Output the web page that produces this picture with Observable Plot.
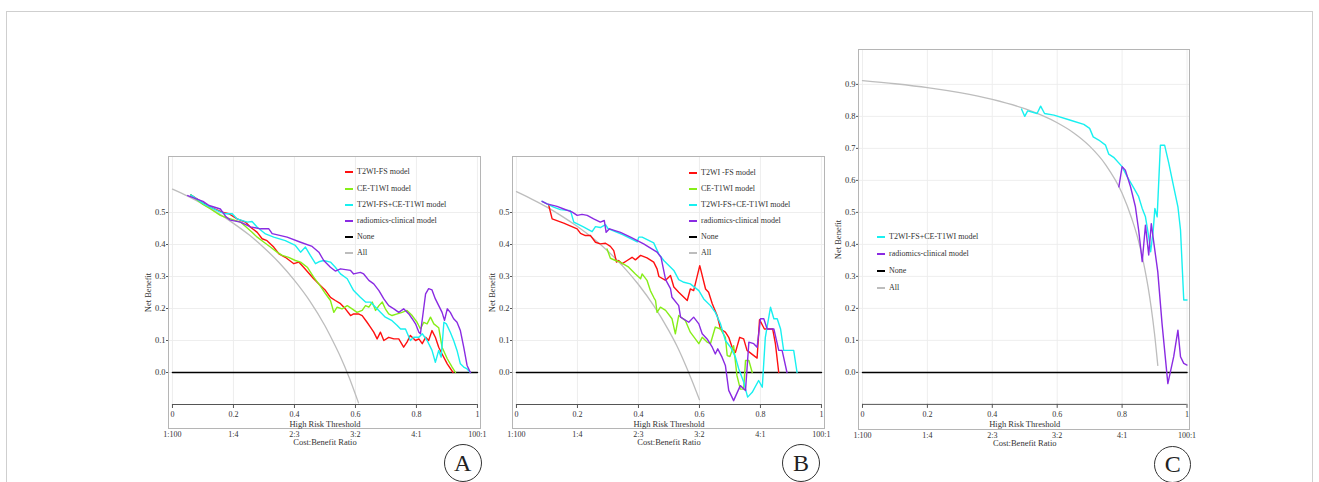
<!DOCTYPE html>
<html><head><meta charset="utf-8">
<script src="https://cdn.jsdelivr.net/npm/d3@7"></script>
<script src="https://cdn.jsdelivr.net/npm/@observablehq/plot@0.6"></script>
<style>
body{margin:0;background:#fff;}
#root{position:relative;width:1319px;height:482px;overflow:hidden;font-family:"Liberation Serif","Times New Roman",serif;}
.leg{position:absolute;font-size:8px;color:#333;white-space:nowrap;line-height:10px;height:10px;}
.leg i{position:absolute;left:0;top:4px;width:8px;height:2px;}
.leg span{position:absolute;left:12px;top:0;}
.circ{position:absolute;border:1px solid #333;border-radius:50%;text-align:center;font-size:24px;color:#222;box-sizing:border-box;}
.psvg{position:absolute;}
</style>
</head><body><div id="root"></div>
<script>
// ---------- data ----------
const xTicks = [0, 0.2, 0.4, 0.6, 0.8, 1];
const xTickLabels = ["0", "0.2", "0.4", "0.6", "0.8", "1"];
const ratioLabels = ["1:100", "1:4", "2:3", "3:2", "4:1", "100:1"];
const yTicksAB = [0, 0.1, 0.2, 0.3, 0.4, 0.5];
const yTicksC = [0, 0.1, 0.2, 0.3, 0.4, 0.5, 0.6, 0.7, 0.8, 0.9];

const legendA = ["T2WI-FS model", "CE-T1WI model", "T2WI-FS+CE-T1WI model", "radiomics-clinical model", "None", "All"];
const legendB = ["T2WI -FS model", "CE-T1WI model", "T2WI-FS+CE-T1WI model", "radiomics-clinical model", "None", "All"];
const legendC = ["T2WI-FS+CE-T1WI model", "radiomics-clinical model", "None", "All"];
const panelLetters = ["A", "B", "C"];

const noneT = [0, 1];
const noneNB = [0, 0];

// Panel A
const aAll = [[0,0.573],[0.05,0.551],[0.1,0.526],[0.15,0.498],[0.2,0.466],[0.25,0.431],[0.3,0.39],[0.35,0.343],[0.4,0.288],[0.45,0.224],[0.5,0.146],[0.525,0.1],[0.55,0.051],[0.58,-0.017],[0.61,-0.095]];
const aRed = [[0.06,0.555],[0.1,0.53],[0.125,0.517],[0.163,0.501],[0.185,0.496],[0.212,0.48],[0.239,0.47],[0.256,0.454],[0.278,0.438],[0.294,0.418],[0.31,0.412],[0.332,0.392],[0.349,0.371],[0.37,0.36],[0.398,0.34],[0.414,0.345],[0.43,0.329],[0.463,0.293],[0.485,0.272],[0.502,0.256],[0.518,0.235],[0.534,0.225],[0.551,0.215],[0.567,0.199],[0.584,0.178],[0.594,0.183],[0.61,0.183],[0.622,0.178],[0.638,0.157],[0.649,0.142],[0.66,0.126],[0.671,0.105],[0.682,0.126],[0.693,0.10],[0.709,0.11],[0.726,0.105],[0.742,0.105],[0.758,0.079],[0.769,0.095],[0.78,0.116],[0.797,0.10],[0.808,0.105],[0.819,0.09],[0.83,0.11],[0.84,0.10],[0.851,0.131],[0.862,0.11],[0.873,0.079],[0.884,0.058],[0.901,0.027],[0.92,0.0]];
const aGreen = [[0.06,0.555],[0.1,0.525],[0.125,0.511],[0.157,0.491],[0.174,0.485],[0.19,0.48],[0.223,0.47],[0.261,0.438],[0.278,0.423],[0.3,0.407],[0.321,0.392],[0.343,0.376],[0.36,0.366],[0.381,0.36],[0.403,0.35],[0.42,0.345],[0.442,0.329],[0.463,0.298],[0.485,0.27],[0.502,0.246],[0.518,0.225],[0.529,0.188],[0.54,0.204],[0.556,0.199],[0.573,0.209],[0.589,0.199],[0.605,0.188],[0.622,0.194],[0.633,0.209],[0.644,0.204],[0.655,0.22],[0.666,0.194],[0.677,0.209],[0.688,0.22],[0.698,0.199],[0.709,0.183],[0.72,0.178],[0.737,0.183],[0.753,0.188],[0.769,0.194],[0.786,0.178],[0.802,0.157],[0.813,0.136],[0.824,0.157],[0.835,0.152],[0.846,0.173],[0.857,0.152],[0.873,0.14],[0.884,0.079],[0.901,0.043],[0.917,0.017],[0.928,0.0]];
const aCyan = [[0.06,0.555],[0.103,0.527],[0.157,0.501],[0.174,0.496],[0.196,0.496],[0.212,0.48],[0.245,0.47],[0.261,0.472],[0.278,0.454],[0.305,0.433],[0.332,0.423],[0.37,0.412],[0.403,0.397],[0.42,0.376],[0.436,0.392],[0.452,0.366],[0.469,0.34],[0.48,0.346],[0.496,0.35],[0.518,0.345],[0.534,0.329],[0.551,0.308],[0.573,0.293],[0.594,0.256],[0.616,0.235],[0.633,0.22],[0.649,0.22],[0.666,0.204],[0.682,0.188],[0.698,0.173],[0.72,0.162],[0.737,0.147],[0.748,0.136],[0.764,0.136],[0.78,0.10],[0.791,0.11],[0.808,0.11],[0.819,0.121],[0.835,0.1],[0.851,0.069],[0.862,0.032],[0.873,0.069],[0.881,0.048],[0.89,0.157],[0.898,0.152],[0.911,0.126],[0.922,0.1],[0.933,0.069],[0.944,0.027],[0.955,0.017],[0.966,0.011],[0.977,0.0]];
const aPurple = [[0.05,0.553],[0.10,0.535],[0.12,0.522],[0.157,0.511],[0.175,0.487],[0.19,0.476],[0.223,0.47],[0.256,0.455],[0.289,0.449],[0.316,0.449],[0.327,0.434],[0.376,0.423],[0.42,0.407],[0.458,0.394],[0.48,0.376],[0.496,0.35],[0.518,0.329],[0.534,0.317],[0.551,0.324],[0.584,0.319],[0.594,0.308],[0.616,0.313],[0.627,0.308],[0.644,0.288],[0.66,0.277],[0.677,0.256],[0.693,0.23],[0.709,0.209],[0.726,0.199],[0.742,0.188],[0.758,0.199],[0.775,0.183],[0.786,0.168],[0.797,0.152],[0.808,0.126],[0.813,0.121],[0.83,0.246],[0.84,0.262],[0.851,0.258],[0.862,0.23],[0.873,0.209],[0.884,0.188],[0.892,0.163],[0.901,0.199],[0.911,0.188],[0.922,0.168],[0.933,0.157],[0.944,0.131],[0.955,0.079],[0.966,0.022],[0.977,0.0]];

// Panel B
const bAll = [[0,0.565],[0.05,0.542],[0.1,0.517],[0.15,0.488],[0.2,0.456],[0.25,0.42],[0.3,0.379],[0.35,0.331],[0.4,0.275],[0.45,0.209],[0.5,0.13],[0.525,0.085],[0.55,0.033],[0.575,-0.024],[0.6,-0.085]];
const bRed = [[0.106,0.522],[0.117,0.48],[0.155,0.467],[0.199,0.449],[0.21,0.435],[0.226,0.428],[0.243,0.428],[0.259,0.407],[0.275,0.402],[0.292,0.404],[0.308,0.394],[0.319,0.381],[0.328,0.345],[0.335,0.35],[0.347,0.34],[0.363,0.35],[0.379,0.36],[0.39,0.352],[0.407,0.366],[0.428,0.358],[0.45,0.345],[0.461,0.324],[0.467,0.3],[0.489,0.288],[0.505,0.303],[0.516,0.267],[0.532,0.251],[0.56,0.225],[0.57,0.261],[0.581,0.256],[0.601,0.334],[0.62,0.261],[0.63,0.251],[0.642,0.215],[0.658,0.178],[0.669,0.136],[0.685,0.126],[0.696,0.11],[0.707,0.079],[0.718,0.063],[0.732,0.11],[0.745,0.105],[0.756,0.069],[0.789,0.045],[0.797,0.165],[0.813,0.136],[0.84,0.136],[0.849,0.09],[0.86,0.0]];
const bGreen = [[0.297,0.386],[0.308,0.357],[0.325,0.35],[0.34,0.345],[0.368,0.329],[0.39,0.308],[0.407,0.293],[0.412,0.308],[0.428,0.288],[0.439,0.256],[0.45,0.235],[0.456,0.225],[0.461,0.188],[0.472,0.204],[0.489,0.194],[0.51,0.168],[0.521,0.121],[0.532,0.178],[0.554,0.162],[0.57,0.126],[0.598,0.09],[0.609,0.11],[0.625,0.095],[0.636,0.09],[0.652,0.142],[0.669,0.136],[0.685,0.11],[0.691,0.053],[0.7,0.05],[0.712,0.084],[0.723,-0.01],[0.734,-0.052],[0.745,-0.052],[0.751,0.0375],[0.762,0.0375],[0.773,0.0]];
const bCyan = [[0.084,0.535],[0.122,0.517],[0.144,0.509],[0.177,0.506],[0.188,0.47],[0.221,0.454],[0.248,0.44],[0.259,0.456],[0.275,0.453],[0.292,0.462],[0.3,0.45],[0.35,0.43],[0.396,0.408],[0.401,0.423],[0.412,0.423],[0.45,0.405],[0.467,0.37],[0.483,0.35],[0.516,0.319],[0.532,0.29],[0.549,0.282],[0.57,0.277],[0.598,0.256],[0.614,0.23],[0.636,0.209],[0.652,0.188],[0.669,0.152],[0.685,0.1],[0.702,0.079],[0.718,0.048],[0.729,0.011],[0.745,-0.03],[0.758,-0.077],[0.773,-0.062],[0.794,-0.025],[0.806,-0.046],[0.816,0.11],[0.833,0.204],[0.844,0.168],[0.855,0.168],[0.866,0.136],[0.876,0.069],[0.909,0.069],[0.92,0.0]];
const bPurple = [[0.084,0.535],[0.1,0.527],[0.133,0.519],[0.155,0.511],[0.183,0.501],[0.199,0.491],[0.215,0.494],[0.232,0.491],[0.253,0.48],[0.275,0.47],[0.288,0.475],[0.294,0.438],[0.305,0.449],[0.341,0.438],[0.374,0.423],[0.417,0.402],[0.461,0.376],[0.474,0.36],[0.489,0.29],[0.505,0.262],[0.51,0.235],[0.532,0.209],[0.538,0.173],[0.565,0.157],[0.581,0.173],[0.598,0.152],[0.609,0.121],[0.625,0.105],[0.642,0.079],[0.652,0.058],[0.66,0.074],[0.674,0.048],[0.685,0.022],[0.696,-0.056],[0.712,-0.088],[0.734,-0.041],[0.751,-0.056],[0.762,0.095],[0.778,0.09],[0.789,0.079],[0.8,0.168],[0.811,0.168],[0.822,0.136],[0.844,0.136],[0.86,0.069],[0.871,0.069],[0.887,0.0]];

// Panel C
const cAll = [[0,0.912],[0.1,0.902],[0.2,0.89],[0.3,0.874],[0.4,0.853],[0.5,0.824],[0.6,0.78],[0.65,0.749],[0.7,0.707],[0.75,0.648],[0.8,0.56],[0.83,0.48],[0.85,0.413],[0.87,0.323],[0.88,0.267],[0.89,0.2],[0.9,0.12],[0.91,0.022]];
const cCyan = [[0.49,0.823],[0.5,0.80],[0.509,0.817],[0.538,0.809],[0.549,0.832],[0.561,0.809],[0.59,0.804],[0.641,0.788],[0.682,0.775],[0.7,0.7625],[0.711,0.736],[0.728,0.726],[0.749,0.71],[0.759,0.682],[0.774,0.672],[0.8,0.643],[0.816,0.611],[0.831,0.585],[0.851,0.549],[0.862,0.5125],[0.872,0.486],[0.882,0.424],[0.888,0.377],[0.896,0.445],[0.901,0.5125],[0.908,0.486],[0.918,0.71],[0.931,0.71],[0.944,0.653],[0.959,0.58],[0.972,0.5175],[0.98,0.445],[0.99,0.226],[1.0,0.226]];
const cPurple = [[0.79,0.58],[0.8,0.643],[0.81,0.632],[0.826,0.58],[0.841,0.5175],[0.851,0.445],[0.862,0.346],[0.872,0.46],[0.882,0.367],[0.89,0.465],[0.898,0.403],[0.91,0.314],[0.923,0.153],[0.941,-0.035],[0.959,0.049],[0.972,0.132],[0.98,0.049],[0.99,0.028],[1.0,0.023]];

// ---------- styles ----------
const COL = {red:"#ff1010", green:"#86ee18", cyan:"#18f0f0", purple:"#8a2be2", none:"#000000", all:"#bdbdbd"};
const FONT = '"Liberation Serif","Times New Roman",serif';
const root = document.getElementById("root");

function toRows(arr){ return arr.map(([t, nb]) => ({t, nb})); }

function panel(cfg){
  const noneRows = noneT.map((t, i) => ({t, nb: noneNB[i]}));
  const marks = [
    Plot.ruleY(cfg.yTicks, {stroke:"#ececec", strokeWidth:0.9}),
    Plot.ruleX(xTicks, {y1:-0.1, y2:cfg.yDom[1], stroke:"#ececec", strokeWidth:0.9}),
    Plot.frame({stroke:"#b5b5b5", strokeWidth:1}),
    Plot.ruleY([-0.1], {x1:0, x2:1, stroke:"#555", strokeWidth:1}),
    Plot.ruleX(xTicks, {y1:-0.1, y2:-0.1 - 4/320, stroke:"#555", strokeWidth:1}),
    Plot.text(xTicks, {x:d => d, y:-0.1, dy:10, text:(d, i) => xTickLabels[i], fill:"#333"}),
    Plot.text(["High Risk Threshold"], {x:0.5, y:-0.1, dy:19.5, text:d => d, fill:"#333", fontSize:8.5}),
    Plot.text(xTicks, {x:d => d, frameAnchor:"bottom", dy:8, text:(d, i) => ratioLabels[i], fill:"#333"}),
    Plot.text(["Cost:Benefit Ratio"], {x:0.5, frameAnchor:"bottom", dy:16.5, text:d => d, fill:"#333", fontSize:8.5}),
    Plot.axisY(cfg.yTicks, {anchor:"left", tickSize:2, tickPadding:1, tickFormat:d => d.toFixed(1), label:"Net Benefit", labelAnchor:"center", labelArrow:"none", labelOffset:cfg.labelOffset, fill:"#333", stroke:"#555", fontSize:8.5}),
    Plot.line(toRows(cfg.all), {x:"t", y:"nb", stroke:COL.all, strokeWidth:1.3, curve:"monotone-x"}),
    Plot.line(noneRows, {x:"t", y:"nb", stroke:COL.none, strokeWidth:1.5}),
  ];
  for (const [arr, c] of cfg.series) marks.push(Plot.line(toRows(arr), {x:"t", y:"nb", stroke:c, strokeWidth:1.4}));
  const svg = Plot.plot({
    width:cfg.width, height:cfg.height,
    marginLeft:cfg.mL, marginRight:cfg.mR, marginTop:cfg.mT, marginBottom:cfg.mB,
    x:{domain:cfg.xDom, axis:null},
    y:{domain:cfg.yDom},
    style:{fontFamily:FONT, fontSize:"8px", color:"#333", background:"transparent", overflow:"visible"},
    marks
  });
  svg.classList.add("psvg");
  svg.style.left = cfg.left + "px";
  svg.style.top = cfg.top + "px";
  root.appendChild(svg);
}

function legend(names, colors, x, y0, step){
  names.forEach((n, i) => {
    const d = document.createElement("div");
    d.className = "leg";
    d.style.left = x + "px";
    d.style.top = (y0 + i*step - 5) + "px";
    const s = document.createElement("i"); s.style.background = colors[i];
    if (colors[i] === COL.all) s.style.height = "1.5px";
    const t = document.createElement("span"); t.textContent = n;
    d.appendChild(s); d.appendChild(t); root.appendChild(d);
  });
}

function circle(letter, cx, cy, r){
  const d = document.createElement("div");
  d.className = "circ";
  d.style.left = (cx - r) + "px"; d.style.top = (cy - r) + "px";
  d.style.width = (2*r) + "px"; d.style.height = (2*r) + "px";
  d.style.lineHeight = (2*r - 2) + "px";
  d.textContent = letter;
  root.appendChild(d);
}

// outer border
const ob = document.createElement("div");
ob.style.cssText = "position:absolute;left:6px;top:11px;width:1305px;height:520px;border:1px solid #cfcfcf;";
root.appendChild(ob);

panel({left:130, top:140, width:370, height:330, mL:38, mR:20, mT:16, mB:42,
  xDom:[-0.013, 1.010], yDom:[-0.175, 0.675], yTicks:yTicksAB, all:aAll, labelOffset:24,
  series:[[aRed, COL.red], [aGreen, COL.green], [aCyan, COL.cyan], [aPurple, COL.purple]]});
panel({left:474, top:140, width:370, height:330, mL:38, mR:20, mT:16, mB:42,
  xDom:[-0.013, 1.010], yDom:[-0.175, 0.675], yTicks:yTicksAB, all:bAll, labelOffset:24,
  series:[[bRed, COL.red], [bGreen, COL.green], [bCyan, COL.cyan], [bPurple, COL.purple]]});
panel({left:820, top:35, width:390, height:430, mL:38, mR:21, mT:14, mB:36,
  xDom:[-0.0123, 1.0077], yDom:[-0.1785, 1.009], yTicks:yTicksC, all:cAll, labelOffset:24,
  series:[[cCyan, COL.cyan], [cPurple, COL.purple]]});

const legColsAB = [COL.red, COL.green, COL.cyan, COL.purple, COL.none, COL.all];
legend(legendA, legColsAB, 345, 172.3, 16.2);
legend(legendB, legColsAB, 689, 173.3, 16.0);
legend(legendC, [COL.cyan, COL.purple, COL.none, COL.all], 877, 237, 17);

circle(panelLetters[0], 462.7, 463.3, 19);
circle(panelLetters[1], 801, 463.3, 19);
circle(panelLetters[2], 1172.7, 464, 18.5);
</script></body></html>
